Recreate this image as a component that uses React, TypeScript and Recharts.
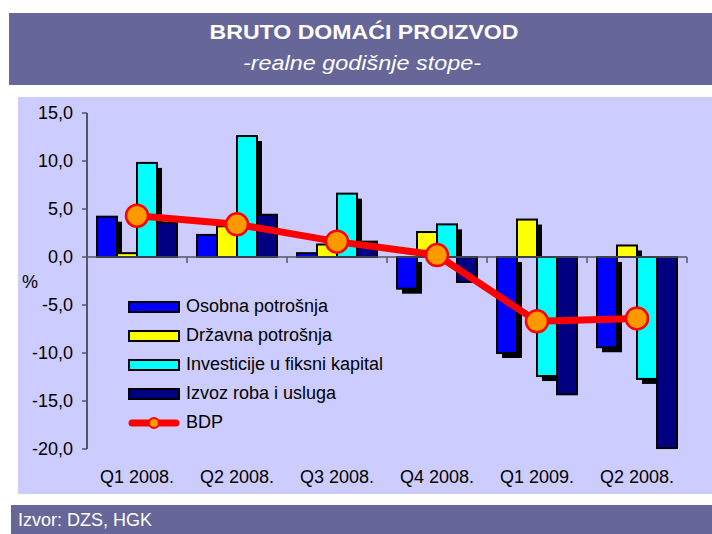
import { ComposedChart, Bar, Line, XAxis, YAxis, ReferenceLine, Legend } from 'recharts'

const quarters = ['Q1 2008.', 'Q2 2008.', 'Q3 2008.', 'Q4 2008.', 'Q1 2009.', 'Q2 2008.']
const osobna = [4.2, 2.3, 0.4, -3.3, -10.0, -9.4]
const drzavna = [0.4, 3.2, 1.3, 2.6, 3.9, 1.2]
const investicije = [9.8, 12.6, 6.6, 3.4, -12.4, -12.7]
const izvoz = [3.6, 4.4, 1.6, -2.6, -14.3, -19.9]
const bdp = [4.3, 3.4, 1.6, 0.2, -6.7, -6.4]
const yTicks = [15, 10, 5, 0, -5, -10, -15, -20]

const BAND = '#666699'
const PLOT_BG = '#CCCCFF'
const AXIS = '#555566'
const FONT = '"Liberation Sans", Arial, sans-serif'

const series = [
  { key: 'osobna', name: 'Osobna potrošnja', color: '#0000FF', shadow: true },
  { key: 'drzavna', name: 'Državna potrošnja', color: '#FFFF00', shadow: true },
  { key: 'investicije', name: 'Investicije u fiksni kapital', color: '#00FFFF', shadow: true },
  { key: 'izvoz', name: 'Izvoz roba i usluga', color: '#000080', shadow: false },
]

const data = quarters.map((q, i) => ({
  q,
  osobna: osobna[i],
  drzavna: drzavna[i],
  investicije: investicije[i],
  izvoz: izvoz[i],
  bdp: bdp[i],
}))

// excel-style drop shadow, only on the far side of the zero line
function makeBarShape(key: string, color: string, shadow: boolean) {
  return (p: any) => {
    const { x, y, width, height } = p
    const top = Math.min(y, y + height)
    const h = Math.abs(height)
    const neg = p.payload[key] < 0
    const off = 5
    return (
      <g>
        {shadow && (neg ? (
          <rect x={x + off} y={top + off} width={width} height={h} fill="#000" />
        ) : h > off ? (
          <rect x={x + off} y={top + off} width={width} height={h - off} fill="#000" />
        ) : null)}
        <rect x={x} y={top} width={width} height={h} fill={color} stroke="#000" strokeWidth={2} />
      </g>
    )
  }
}

// zero line with the category tick marks hanging below it
const ZeroAxis = (p: any) => {
  const { x1, x2, y1 } = p
  const n = quarters.length
  const step = (x2 - x1) / n
  return (
    <g>
      <line x1={x1} x2={x2} y1={y1} y2={y1} stroke={AXIS} strokeWidth={1.5} />
      {Array.from({ length: n + 1 }).map((_, i) => (
        <line key={i} x1={x1 + i * step} x2={x1 + i * step} y1={y1} y2={y1 + 6} stroke={AXIS} strokeWidth={1.5} />
      ))}
    </g>
  )
}

const renderLegend = () => (
  <div style={{ fontFamily: FONT, fontSize: 18, color: '#000' }}>
    {series.map((s) => (
      <div key={s.key} style={{ height: 29, display: 'flex', alignItems: 'center' }}>
        <div style={{ width: 48, height: 8, background: s.color, border: '2px solid #000', marginRight: 6 }} />
        <span>{s.name}</span>
      </div>
    ))}
    <div style={{ height: 29, display: 'flex', alignItems: 'center' }}>
      <svg width={58} height={16}>
        <line x1={4} x2={48} y1={8} y2={8} stroke="#FF0000" strokeWidth={7} strokeLinecap="round" />
        <circle cx={26} cy={8} r={5} fill="#FF9900" stroke="#FF0000" strokeWidth={2} />
      </svg>
      <span>BDP</span>
    </div>
  </div>
)

export default function App() {
  return (
    <div style={{ position: 'absolute', left: 0, top: 0, width: 712, height: 534, background: '#fff', fontFamily: FONT }}>
      <div style={{ position: 'absolute', left: 9, top: 13, width: 703, height: 72, background: BAND }}>
        <svg width={703} height={72}>
          <text x={355} y={26} textAnchor="middle" fill="#fff" fontWeight="bold" fontSize={21} textLength={309} lengthAdjust="spacingAndGlyphs">
            BRUTO DOMAĆI PROIZVOD
          </text>
          <text x={353} y={57} textAnchor="middle" fill="#fff" fontStyle="italic" fontSize={21} textLength={238} lengthAdjust="spacingAndGlyphs">
            -realne godišnje stope-
          </text>
        </svg>
      </div>
      <div style={{ position: 'absolute', left: 18, top: 97, width: 694, height: 397, background: PLOT_BG }} />
      <div style={{ position: 'absolute', left: 22, top: 272, fontSize: 18, color: '#000' }}>%</div>
      <div style={{ position: 'absolute', left: 0, top: 0 }}>
        <ComposedChart
          width={712}
          height={534}
          data={data}
          margin={{ top: 113, right: 25, bottom: 55, left: 27 }}
          barGap={0}
          barSize={20}
        >
          <XAxis
            dataKey="q"
            axisLine={false}
            tickLine={false}
            tickMargin={15}
            interval={0}
            height={30}
            tick={{ fontSize: 18, fill: '#000' }}
          />
          <YAxis
            domain={[-20, 15]}
            ticks={yTicks}
            interval={0}
            width={60}
            tickFormatter={(v: number) => v.toFixed(1).replace('.', ',')}
            axisLine={{ stroke: AXIS, strokeWidth: 2 }}
            tickLine={{ stroke: AXIS, strokeWidth: 1.5 }}
            tickSize={5}
            tickMargin={9}
            tick={{ fontSize: 18, fill: '#000' }}
          />
          <ReferenceLine y={0} shape={ZeroAxis} />
          {series.map((s) => (
            <Bar
              key={s.key}
              dataKey={s.key}
              name={s.name}
              fill={s.color}
              shape={makeBarShape(s.key, s.color, s.shadow)}
              isAnimationActive={false}
            />
          ))}
          <Line
            dataKey="bdp"
            name="BDP"
            stroke="#FF0000"
            strokeWidth={7}
            strokeLinejoin="round"
            dot={{ r: 11, fill: '#FF9900', stroke: '#FF0000', strokeWidth: 2.5 }}
            activeDot={false}
            isAnimationActive={false}
          />
          <Legend
            layout="vertical"
            align="center"
            verticalAlign="middle"
            content={renderLegend}
            wrapperStyle={{ left: 128, top: 292, width: 300 }}
          />
        </ComposedChart>
      </div>
      <div style={{ position: 'absolute', left: 11, top: 505, width: 701, height: 29, background: BAND, color: '#fff', fontSize: 18, lineHeight: '30px', paddingLeft: 7, boxSizing: 'border-box' }}>
        Izvor: DZS, HGK
      </div>
    </div>
  )
}
